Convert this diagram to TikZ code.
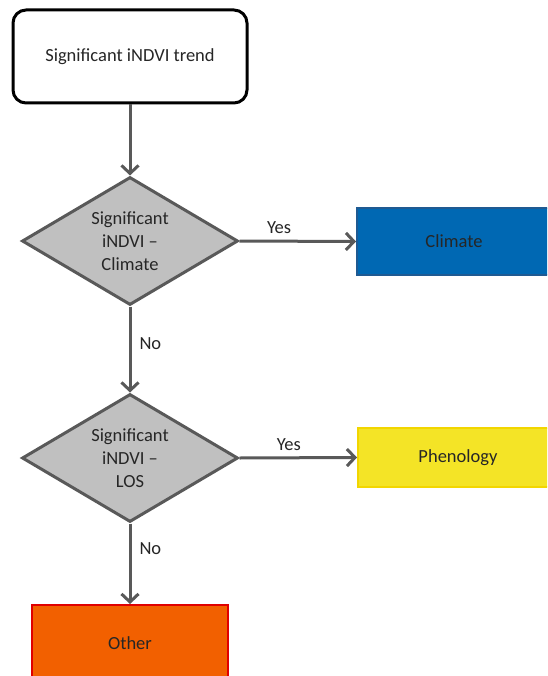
\documentclass[tikz,border=0pt]{standalone}
\usepackage{fontspec}
\setmainfont{Carlito}
\usetikzlibrary{shapes.geometric,arrows.meta}

\definecolor{linegray}{HTML}{595959}
\definecolor{diamondfill}{HTML}{C0C0C0}
\definecolor{inkdark}{HTML}{262626}
\definecolor{climatefill}{HTML}{0068B3}
\definecolor{climateedge}{HTML}{1F5A92}
\definecolor{phenofill}{HTML}{F4E426}
\definecolor{phenoedge}{HTML}{F2D600}
\definecolor{otherfill}{HTML}{F26000}
\definecolor{otheredge}{HTML}{E00000}

\begin{document}
\begin{tikzpicture}[
  x=1pt, y=-1pt,
  font=\fontsize{18.5}{23}\selectfont,
  text=inkdark,
  startbox/.style={draw=black, line width=3pt, rounded corners=13pt, fill=white,
    minimum width=234pt, minimum height=93pt, inner sep=0pt},
  decision/.style={diamond, draw=linegray, line width=3pt, fill=diamondfill,
    minimum width=216pt, minimum height=128pt, inner sep=0pt, align=center,
    shape aspect=1.7},
  outcome/.style={rectangle, line width=2pt, inner sep=0pt},
  flow/.style={draw=linegray, line width=3pt,
    -{Straight Barb[length=8pt,width=17pt]}},
  lbl/.style={inner sep=0pt, text=inkdark}
]
  \clip (0,0) rectangle (547,676);
  \fill[white] (0,0) rectangle (547,676);

  % start and decisions
  \node[startbox] (start) at (130,56.5) {Significant iNDVI trend};
  \node[decision] (climq) at (130,241) {Significant\\iNDVI –\\Climate};
  \node[decision] (losq) at (130,458) {Significant\\iNDVI –\\LOS};

  % outcomes
  \node[outcome, draw=climateedge, fill=climatefill,
        minimum width=194pt, minimum height=67pt] (climate) at (454,241.5) {Climate};
  \node[outcome, draw=phenoedge, fill=phenofill,
        minimum width=200pt, minimum height=59pt] (pheno) at (458,457.5) {Phenology};
  \node[outcome, draw=otheredge, fill=otherfill,
        minimum width=196pt, minimum height=76pt] (other) at (130,643) {Other};

  % connectors
  \draw[flow] (start) -- (climq);
  \draw[flow] (climq.east) -- node[lbl, pos=0.34, above, yshift=6pt] (yes1) {Yes} (climate.west);
  \draw[flow] (climq.south) -- node[lbl, pos=0.43, anchor=west, xshift=8pt] (no1) {No} (losq.north);
  \draw[flow] (losq.east) -- node[lbl, pos=0.42, above, yshift=6pt] (yes2) {Yes} (pheno.west);
  \draw[flow] (losq.south) -- node[lbl, pos=0.31, anchor=west, xshift=8pt] (no2) {No} (other.north);
\end{tikzpicture}
\end{document}
